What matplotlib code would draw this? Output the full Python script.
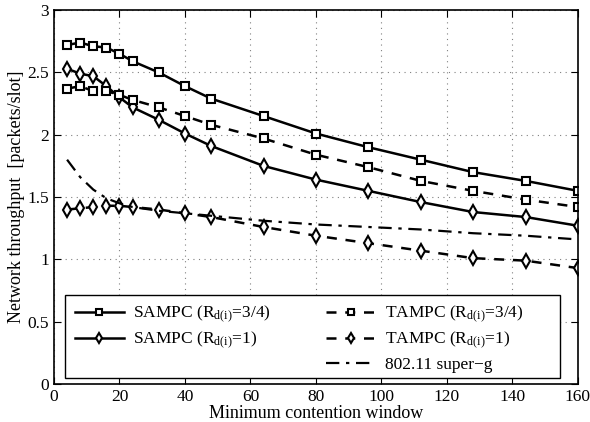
import numpy as np
import matplotlib.pyplot as plt
from matplotlib.patches import Rectangle

plt.rcParams['font.family'] = ['Liberation Serif', 'DejaVu Serif']
plt.rcParams['mathtext.fontset'] = 'custom'
plt.rcParams['mathtext.rm'] = 'Liberation Serif'
plt.rcParams['mathtext.it'] = 'Liberation Serif:italic'

cw = [4, 8, 12, 16, 20, 24, 32, 40, 48, 64, 80, 96, 112, 128, 144, 160]
sampc_34 = [2.72, 2.74, 2.71, 2.70, 2.65, 2.59, 2.50, 2.39, 2.29, 2.15, 2.01, 1.90, 1.80, 1.70, 1.63, 1.55]
tampc_34 = [2.37, 2.39, 2.35, 2.35, 2.32, 2.28, 2.22, 2.15, 2.08, 1.97, 1.84, 1.74, 1.63, 1.55, 1.48, 1.42]
sampc_1 = [2.53, 2.49, 2.47, 2.39, 2.30, 2.22, 2.12, 2.01, 1.91, 1.75, 1.64, 1.55, 1.46, 1.38, 1.34, 1.27]
tampc_1 = [1.40, 1.41, 1.42, 1.43, 1.43, 1.42, 1.40, 1.37, 1.34, 1.26, 1.19, 1.13, 1.07, 1.01, 0.99, 0.93]
superg = [1.80, 1.66, 1.56, 1.49, 1.45, 1.42, 1.39, 1.37, 1.35, 1.31, 1.28, 1.26, 1.24, 1.21, 1.19, 1.16]

fig = plt.figure(figsize=(5.9, 4.22), dpi=100)
ax = fig.add_axes([0.0915, 0.090, 0.888, 0.886])

lw = 1.8
sq = dict(marker='s', markersize=6, markerfacecolor='white', markeredgewidth=1.5)
dm = dict(marker='d', markersize=7.5, markerfacecolor='white', markeredgewidth=1.5)

h1, = ax.plot(cw, sampc_34, 'k-', lw=lw, label='SAMPC (R$_{\\mathrm{d(i)}}$=3/4)', **sq)
h2, = ax.plot(cw, sampc_1, 'k-', lw=lw, label='SAMPC (R$_{\\mathrm{d(i)}}$=1)', **dm)
h3, = ax.plot(cw, tampc_34, 'k--', lw=lw, dashes=(4, 3.5), label='TAMPC (R$_{\\mathrm{d(i)}}$=3/4)', **sq)
h4, = ax.plot(cw, tampc_1, 'k--', lw=lw, dashes=(4, 3.5), label='TAMPC (R$_{\\mathrm{d(i)}}$=1)', **dm)
h5, = ax.plot(cw, superg, 'k-.', lw=1.6, dashes=(6, 3, 1.5, 3), label='802.11 super\u2212g')
blank, = ax.plot([], [], color='none', label=' ')

ax.set_xlim(0, 160)
ax.set_ylim(0, 3)
ax.set_xticks(np.arange(0, 161, 20))
ax.set_yticks(np.arange(0, 3.01, 0.5))
ax.set_yticklabels(['0', '0.5', '1', '1.5', '2', '2.5', '3'])
ax.tick_params(direction='in', labelsize=12.5, length=5, top=True, right=True)
ax.grid(True, linestyle=(0, (1, 4)), color='gray', linewidth=0.8)
for s in ax.spines.values():
    s.set_linewidth(1.2)

ax.set_xlabel('Minimum contention window', fontsize=13, labelpad=0)
ax.set_ylabel('Network throughput  [packets/slot]', fontsize=13, labelpad=2)

# legend frame (matlab style, wider than its contents)
ax.add_patch(Rectangle((0.021, 0.016), 0.945, 0.222, transform=ax.transAxes,
                       facecolor='white', edgecolor='black', lw=1.0, zorder=4.5))

leg = ax.legend(handles=[h1, h2, blank, h3, h4, h5], ncol=2, loc='upper left',
                bbox_to_anchor=(0.040, 0.214), fontsize=12.5, frameon=False,
                handlelength=2.8, handletextpad=0.55, columnspacing=3.2,
                labelspacing=0.3, borderpad=0, borderaxespad=0, markerscale=0.7)

fig.savefig('out.png', dpi=100)
